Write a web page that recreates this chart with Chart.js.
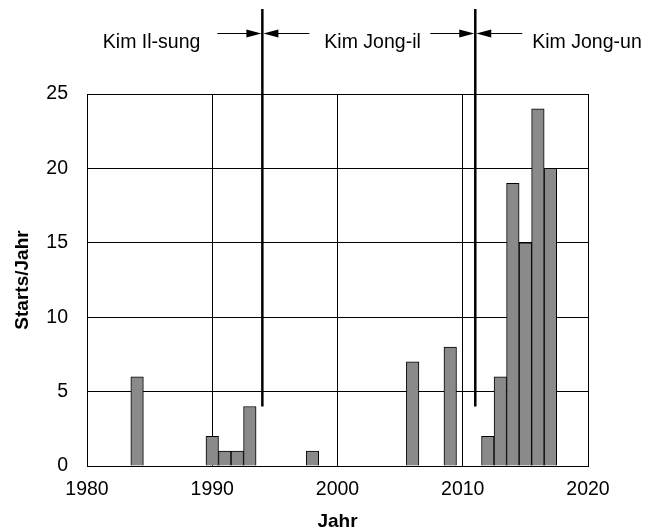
<!DOCTYPE html>
<html lang="de">
<head>
<meta charset="UTF-8">
<title>Starts/Jahr</title>
<script src="https://cdn.jsdelivr.net/npm/chart.js"></script>
<style>
  html, body { margin: 0; padding: 0; background: #fff; }
  #wrap { width: 652px; height: 532px; position: relative; }
</style>
</head>
<body>
<div id="wrap"><canvas id="chart"></canvas></div>
<script>
// Starts pro Jahr
const years = [1984, 1990, 1991, 1992, 1993, 1998, 2006, 2009, 2012, 2013, 2014, 2015, 2016, 2017];
const starts = [6, 2, 1, 1, 4, 1, 7, 8, 2, 6, 19, 15, 24, 20];
const xTicks = [1980, 1990, 2000, 2010, 2020];
const yTicks = [0, 5, 10, 15, 20, 25];

// Machtwechsel
const handoverYears = [1994, 2011];
const leaders = ['Kim Il-sung', 'Kim Jong-il', 'Kim Jong-un'];

Chart.defaults.font.family = "'Liberation Sans', Arial, sans-serif";
Chart.defaults.color = '#000';

function arrowHead(ctx, tipX, y, dir) {
  // dir = +1 pointing right, -1 pointing left
  ctx.beginPath();
  ctx.moveTo(tipX, y);
  ctx.lineTo(tipX - dir * 15, y - 4);
  ctx.lineTo(tipX - dir * 15, y + 4);
  ctx.closePath();
  ctx.fill();
}

const leaderPlugin = {
  id: 'leaders',
  afterDatasetsDraw(chart) {
    const { ctx, scales: { x, y } } = chart;
    const topY = 9, arrowY = 33.5, textY = 48;
    ctx.save();
    ctx.strokeStyle = '#000';
    ctx.fillStyle = '#000';

    handoverYears.forEach(yr => {
      const px = x.getPixelForValue(yr);
      ctx.lineWidth = 2.5;
      ctx.beginPath();
      ctx.moveTo(px, topY);
      ctx.lineTo(px, y.getPixelForValue(4));
      ctx.stroke();

      ctx.lineWidth = 1;
      ctx.beginPath();
      ctx.moveTo(px - 45, arrowY);
      ctx.lineTo(px - 5, arrowY);
      ctx.moveTo(px + 5, arrowY);
      ctx.lineTo(px + 47, arrowY);
      ctx.stroke();
      arrowHead(ctx, px - 1, arrowY, 1);
      arrowHead(ctx, px + 1, arrowY, -1);
    });

    ctx.font = "19.5px 'Liberation Sans', Arial, sans-serif";
    ctx.textBaseline = 'alphabetic';
    const l1 = x.getPixelForValue(handoverYears[0]);
    const l2 = x.getPixelForValue(handoverYears[1]);
    ctx.textAlign = 'right';
    ctx.fillText(leaders[0], l1 - 62, textY);
    ctx.textAlign = 'left';
    ctx.fillText(leaders[1], l1 + 62, textY);
    ctx.fillText(leaders[2], l2 + 57, textY);
    ctx.restore();
  }
};

new Chart(document.getElementById('chart'), {
  type: 'bar',
  data: {
    datasets: [{
      data: years.map((yr, i) => ({ x: yr, y: starts[i] })),
      backgroundColor: '#8a8a8a',
      borderColor: '#000',
      borderWidth: 1,
      barPercentage: 1,
      categoryPercentage: 1
    }]
  },
  options: {
    responsive: true,
    maintainAspectRatio: false,
    animation: false,
    layout: { padding: { top: 94, right: 64, left: 0, bottom: 0 } },
    plugins: { legend: { display: false }, tooltip: { enabled: false } },
    scales: {
      x: {
        type: 'linear',
        min: 1980,
        max: 2020,
        offset: false,
        afterBuildTicks: s => { s.ticks = xTicks.map(v => ({ value: v })); },
        ticks: { font: { size: 19.5 }, padding: 12, maxRotation: 0, autoSkip: false, callback: v => String(v) },
        grid: { color: '#000', drawTicks: false, offset: false },
        border: { color: '#000' },
        title: { display: true, text: 'Jahr', font: { size: 19, weight: 'bold' }, padding: { top: 0, bottom: -1 } },
        afterFit: s => { s.height = 66; }
      },
      y: {
        min: 0,
        max: 25,
        afterBuildTicks: s => { s.ticks = yTicks.map(v => ({ value: v })); },
        ticks: { font: { size: 19.5 }, padding: 19 },
        grid: { color: '#000', drawTicks: false },
        border: { color: '#000' },
        title: { display: true, text: 'Starts/Jahr', font: { size: 19, weight: 'bold' }, padding: { top: 11, bottom: 0 } },
        afterFit: s => { s.width = 87; }
      }
    }
  },
  plugins: [leaderPlugin]
});
</script>
</body>
</html>
